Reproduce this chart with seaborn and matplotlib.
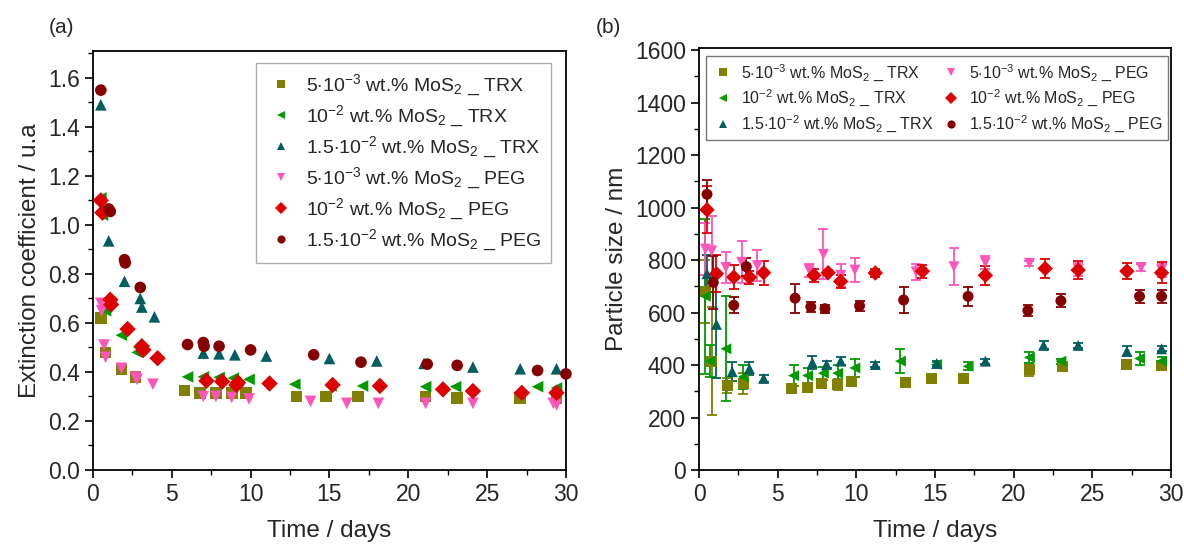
import numpy as np
import pandas as pd
import matplotlib
matplotlib.use("Agg")
import matplotlib.pyplot as plt
import seaborn as sns

# ---------------- data panel (a): extinction coefficient ----------------
a_trx5_x = [0.5, 0.8, 1.8, 2.7, 5.8, 6.8, 7.8, 8.8, 9.7, 12.9, 14.8, 16.8, 21.1, 23.1, 27.1, 29.4]
a_trx5_y = [0.62, 0.48, 0.41, 0.38, 0.325, 0.315, 0.315, 0.315, 0.315, 0.30, 0.30, 0.30, 0.30, 0.295, 0.295, 0.295]

a_trx10_x = [0.5, 0.6, 0.8, 1.8, 2.8, 2.9, 6.0, 7.0, 8.0, 8.9, 9.9, 12.8, 15.1, 17.1, 21.1, 23.0, 28.2, 29.4]
a_trx10_y = [1.11, 1.04, 0.65, 0.55, 0.48, 0.50, 0.38, 0.38, 0.378, 0.375, 0.37, 0.35, 0.343, 0.343, 0.34, 0.34, 0.34, 0.335]

a_trx15_x = [0.5, 1.0, 2.0, 3.0, 3.1, 3.9, 7.0, 8.0, 9.0, 11.0, 15.0, 18.0, 21.0, 24.1, 27.1, 29.4]
a_trx15_y = [1.49, 0.935, 0.77, 0.70, 0.665, 0.625, 0.477, 0.474, 0.47, 0.465, 0.455, 0.445, 0.435, 0.42, 0.413, 0.413]

a_peg5_x = [0.5, 0.55, 0.7, 0.8, 1.8, 2.7, 2.8, 3.8, 7.0, 7.8, 8.8, 9.9, 13.8, 16.1, 18.1, 21.1, 24.1, 29.2, 29.4]
a_peg5_y = [0.68, 0.65, 0.51, 0.46, 0.415, 0.378, 0.37, 0.35, 0.30, 0.30, 0.296, 0.29, 0.28, 0.272, 0.272, 0.272, 0.272, 0.272, 0.265]

a_peg10_x = [0.5, 0.6, 1.1, 1.15, 2.2, 3.1, 3.2, 4.1, 7.2, 8.2, 9.2, 9.1, 11.2, 15.2, 18.2, 22.2, 24.1, 27.2, 29.4]
a_peg10_y = [1.10, 1.05, 0.695, 0.675, 0.575, 0.505, 0.49, 0.456, 0.364, 0.361, 0.357, 0.347, 0.353, 0.347, 0.343, 0.329, 0.322, 0.315, 0.315]

a_peg15_x = [0.5, 1.0, 1.1, 2.0, 2.05, 3.0, 6.0, 7.0, 7.05, 8.0, 10.0, 14.0, 17.0, 21.2, 23.1, 28.2, 30.0]
a_peg15_y = [1.55, 1.065, 1.055, 0.858, 0.845, 0.745, 0.512, 0.52, 0.505, 0.505, 0.49, 0.47, 0.44, 0.432, 0.427, 0.406, 0.392]

# ---------------- data panel (b): particle size ----------------
b_trx5_x = [0.4, 0.8, 1.8, 2.8, 5.9, 6.9, 7.8, 8.8, 9.7, 13.1, 14.8, 16.8, 21.0, 23.1, 27.2, 29.4]
b_trx5_y = [682, 415, 322, 329, 309, 316, 329, 325, 336, 332, 349, 349, 382, 395, 402, 400]
b_trx5_e = [120, 205, 30, 40, 10, 12, 12, 20, 12, 15, 12, 15, 25, 12, 10, 10]

b_trx10_x = [0.4, 0.7, 1.7, 2.8, 6.0, 6.9, 7.9, 8.8, 9.9, 12.8, 15.1, 17.1, 21.0, 23.0, 28.0, 29.4]
b_trx10_y = [662, 415, 462, 355, 360, 360, 369, 369, 389, 415, 402, 395, 429, 415, 425, 415]
b_trx10_e = [295, 60, 200, 45, 40, 30, 25, 30, 35, 45, 10, 15, 20, 10, 25, 15]

b_trx15_x = [0.5, 1.1, 2.1, 3.2, 4.1, 7.2, 8.1, 9.0, 11.2, 15.1, 18.2, 21.9, 24.1, 27.2, 29.4]
b_trx15_y = [748, 555, 375, 386, 349, 409, 402, 415, 402, 406, 415, 475, 475, 453, 462]
b_trx15_e = [70, 205, 35, 25, 15, 25, 15, 15, 10, 10, 10, 15, 10, 20, 10]

b_peg5_x = [0.4, 0.8, 1.7, 2.7, 3.7, 7.0, 7.9, 9.0, 9.9, 13.8, 16.2, 18.2, 21.0, 24.1, 28.1, 29.4]
b_peg5_y = [842, 835, 772, 792, 779, 762, 822, 742, 762, 755, 775, 791, 788, 764, 772, 762]
b_peg5_e = [100, 135, 60, 80, 60, 25, 95, 45, 45, 30, 70, 25, 10, 25, 15, 25]

b_peg10_x = [0.5, 1.1, 2.2, 3.2, 4.1, 7.3, 8.2, 9.0, 11.2, 14.2, 18.2, 22.0, 24.1, 27.2, 29.4]
b_peg10_y = [992, 748, 735, 735, 752, 742, 752, 719, 751, 758, 742, 768, 762, 758, 752]
b_peg10_e = [90, 70, 45, 25, 45, 25, 10, 25, 15, 25, 35, 35, 35, 30, 40]

b_peg15_x = [0.5, 0.9, 2.2, 3.0, 6.1, 7.1, 8.0, 10.2, 13.0, 17.1, 20.9, 23.0, 28.0, 29.4]
b_peg15_y = [1051, 715, 628, 775, 655, 622, 615, 626, 648, 662, 608, 645, 662, 662]
b_peg15_e = [55, 100, 30, 35, 55, 20, 15, 20, 50, 35, 20, 25, 25, 25]

labels = [
    r"5$\cdot$10$^{-3}$ wt.% MoS$_2$ _ TRX",
    r"10$^{-2}$ wt.% MoS$_2$ _ TRX",
    r"1.5$\cdot$10$^{-2}$ wt.% MoS$_2$ _ TRX",
    r"5$\cdot$10$^{-3}$ wt.% MoS$_2$ _ PEG",
    r"10$^{-2}$ wt.% MoS$_2$ _ PEG",
    r"1.5$\cdot$10$^{-2}$ wt.% MoS$_2$ _ PEG",
]
colores = ["#808000", "#009A00", "#005E5E", "#FF55B8", "#DD0000", "#850000"]
marcadores = ["s", "<", "^", "v", "D", "o"]

a_series = [(a_trx5_x, a_trx5_y), (a_trx10_x, a_trx10_y), (a_trx15_x, a_trx15_y),
            (a_peg5_x, a_peg5_y), (a_peg10_x, a_peg10_y), (a_peg15_x, a_peg15_y)]
b_series = [(b_trx5_x, b_trx5_y, b_trx5_e), (b_trx10_x, b_trx10_y, b_trx10_e),
            (b_trx15_x, b_trx15_y, b_trx15_e), (b_peg5_x, b_peg5_y, b_peg5_e),
            (b_peg10_x, b_peg10_y, b_peg10_e), (b_peg15_x, b_peg15_y, b_peg15_e)]

df_a = pd.concat([pd.DataFrame({"day": x, "val": y, "serie": lab})
                  for (x, y), lab in zip(a_series, labels)], ignore_index=True)
df_b = pd.concat([pd.DataFrame({"day": x, "val": y, "err": e, "serie": lab})
                  for (x, y, e), lab in zip(b_series, labels)], ignore_index=True)

sns.set_style("ticks")
plt.rcParams["font.family"] = ["Liberation Sans", "DejaVu Sans"]
plt.rcParams["mathtext.fontset"] = "custom"
plt.rcParams["mathtext.rm"] = "Liberation Sans"
plt.rcParams["mathtext.it"] = "Liberation Sans:italic"
plt.rcParams["mathtext.bf"] = "Liberation Sans:bold"

paleta = dict(zip(labels, colores))
formas = dict(zip(labels, marcadores))

fig = plt.figure(figsize=(11.84, 5.45), dpi=100)
ax_a = fig.add_axes([0.0785, 0.1376, 0.3995, 0.769])
ax_b = fig.add_axes([0.5905, 0.1376, 0.3985, 0.775])

# panel (a)
sns.scatterplot(data=df_a, x="day", y="val", hue="serie", style="serie",
                palette=paleta, markers=formas, hue_order=labels, style_order=labels,
                s=70, linewidth=0, ax=ax_a, zorder=3, clip_on=False)
ax_a.set_xlim(0, 30)
ax_a.set_ylim(0, 1.71)
ax_a.set_xticks(np.arange(0, 31, 5))
ax_a.set_xticks(np.arange(0, 31, 2.5), minor=True)
ax_a.set_yticks(np.arange(0, 1.61, 0.2))
ax_a.set_yticks(np.arange(0, 1.71, 0.1), minor=True)
ax_a.yaxis.set_major_formatter(matplotlib.ticker.FormatStrFormatter("%.1f"))
ax_a.set_xlabel("Time / days", fontsize=17.5, labelpad=10)
ax_a.set_ylabel("Extinction coefficient / u.a", fontsize=17.5, labelpad=5)
leg_a = ax_a.legend(loc="upper right", bbox_to_anchor=(0.99, 0.995), fontsize=14,
                    markerscale=0.7, frameon=True, fancybox=False, edgecolor="#999999",
                    handletextpad=0.5, labelspacing=0.3, borderpad=0.5, handlelength=1.6)
leg_a.get_frame().set_linewidth(1.0)

# panel (b)
for (x, y, e), lab, col in zip(b_series, labels, colores):
    ax_b.errorbar(x, y, yerr=e, fmt="none", ecolor=col, elinewidth=1.3,
                  capsize=3.5, capthick=1.3, zorder=2)
sns.scatterplot(data=df_b, x="day", y="val", hue="serie", style="serie",
                palette=paleta, markers=formas, hue_order=labels, style_order=labels,
                s=62, linewidth=0, ax=ax_b, zorder=3)
ax_b.set_xlim(0, 30)
ax_b.set_ylim(0, 1610)
ax_b.set_xticks(np.arange(0, 31, 5))
ax_b.set_xticks(np.arange(0, 31, 2.5), minor=True)
ax_b.set_yticks(np.arange(0, 1601, 200))
ax_b.set_yticks(np.arange(0, 1601, 100), minor=True)
ax_b.set_xlabel("Time / days", fontsize=17.5, labelpad=10)
ax_b.set_ylabel("Particle size / nm", fontsize=17.5, labelpad=5)
leg_b = ax_b.legend(loc="upper left", bbox_to_anchor=(0.0, 0.995), ncol=2, fontsize=11.5,
                    markerscale=0.75, frameon=True, fancybox=False, edgecolor="#555555",
                    handletextpad=0.4, labelspacing=0.3, borderpad=0.35, borderaxespad=0.4,
                    columnspacing=0.3, handlelength=1.5)
leg_b.get_frame().set_linewidth(1.0)

for ax in (ax_a, ax_b):
    for sp in ax.spines.values():
        sp.set_visible(True)
        sp.set_color("black")
        sp.set_linewidth(1.3)
    ax.tick_params(which="major", direction="out", length=6, width=1.2, labelsize=16.5, color="black")
    ax.tick_params(which="minor", direction="out", length=3.5, width=1.0, color="black")

fig.text(0.041, 0.94, "(a)", fontsize=15)
fig.text(0.503, 0.94, "(b)", fontsize=15)

fig.savefig("out.png", dpi=100)
